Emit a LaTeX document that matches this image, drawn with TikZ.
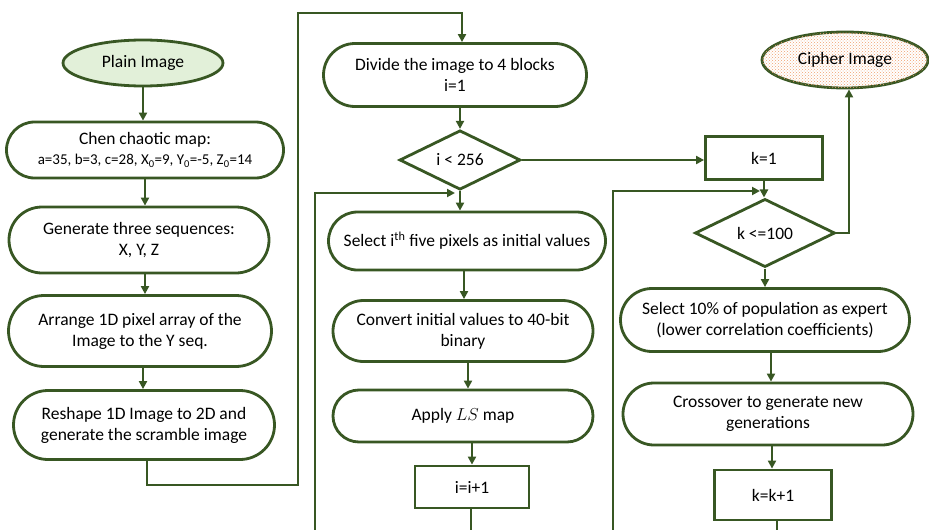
\documentclass[tikz,border=0pt]{standalone}
\usepackage{fontspec}
\setmainfont{Carlito}
\usetikzlibrary{arrows.meta,shapes.geometric,patterns,calc}
\definecolor{dkgreen}{RGB}{56,87,35}
\definecolor{ltgreen}{RGB}{226,240,217}
\definecolor{dotorange}{RGB}{240,160,110}
\begin{document}
\begin{tikzpicture}[x=1pt,y=-1pt,
  every node/.style={font=\fontsize{17.5}{21}\selectfont, align=center, inner sep=0pt, line width=2.8pt, draw=dkgreen},
  term/.style 2 args={rectangle, minimum width=#1, minimum height=#2, rounded corners=#2/2},
  boxed/.style 2 args={rectangle, minimum width=#1, minimum height=#2},
  decide/.style 2 args={diamond, minimum width=#1, minimum height=#2},
  oval/.style 2 args={ellipse, minimum width=#1, minimum height=#2},
  link/.style={draw=dkgreen, line width=2.8pt},
  arr/.style={link, -{Triangle[length=8pt,width=8pt]}}]
\useasboundingbox (0,0) rectangle (929,530);

% left column: scrambling stage
\node[oval={160pt}{46pt}, fill=ltgreen] (plain) at (143,63) {Plain Image};
\node[term={277pt}{56pt}] (chen) at (145,150) {Chen chaotic map:\\[-1pt]
  {\fontsize{15}{18}\selectfont a=35, b=3, c=28, X\textsubscript{0}=9, Y\textsubscript{0}=-5, Z\textsubscript{0}=14}};
\node[term={260pt}{66pt}] (gen) at (139,240) {Generate three sequences:\\X, Y, Z};
\node[term={263pt}{71pt}] (arrg) at (140,331) {Arrange 1D pixel array of the\\Image to the Y seq.};
\node[term={261pt}{69pt}] (resh) at (144,425) {Reshape 1D Image to 2D and\\generate the scramble image};

% middle column: block processing loop
\node[term={263pt}{63pt}] (div) at (455,75) {Divide the image to 4 blocks\\i=1};
\node[decide={121pt}{54pt}] (d1) at (460,160) {i {<} 256};
\node[term={277pt}{58pt}] (sel) at (467,241) {Select i\textsuperscript{th} five pixels as initial values};
\node[term={260pt}{61pt}] (conv) at (463,331) {Convert initial values to 40-bit\\binary};
\node[term={260pt}{52pt}] (ls) at (463,416) {Apply $LS$ map};
\node[boxed={114pt}{42pt}] (inc) at (472,487) {i=i+1};

% right column: optimisation loop
\node[oval={166pt}{56pt}, fill=white, postaction={pattern=crosshatch dots, pattern color=dotorange}] (cip) at (845,60) {Cipher Image};
\node[boxed={117pt}{43pt}] (k1) at (764,158) {k=1};
\node[decide={140pt}{52pt}] (d2) at (765,233) {k {<}=100};
\node[term={289pt}{63pt}] (sel10) at (765,320) {Select 10\% of population as expert\\(lower correlation coefficients)};
\node[term={290pt}{62pt}] (cross) at (768,414) {Crossover to generate new\\generations};
\node[boxed={117pt}{50pt}] (kk) at (773,495) {k=k+1};

% route points
\coordinate (rdown) at (147,485);
\coordinate (rup) at (298,13);
\coordinate (rtop) at (462,13);
\coordinate (iback) at (315,530);
\coordinate (ijoin) at (455,193);
\coordinate (iout) at (471,530);
\coordinate (kback) at (613,530);
\coordinate (kjoin) at (760,191);
\coordinate (kout) at (777,530);
\coordinate (cup) at (849,233);
\coordinate (gx) at ($(gen.south)+(6,0)$);
\coordinate (ax) at ($(arrg.south)+(3,0)$);
\coordinate (sx) at ($(sel.south)+(-3,0)$);
\coordinate (cx) at ($(conv.south)+(5,0)$);
\coordinate (lx) at ($(ls.south)+(9,0)$);
\coordinate (tx) at ($(sel10.south)+(6,0)$);
\coordinate (ox) at ($(cross.south)+(4,0)$);

% left column arrows
\draw[arr] (plain.south) -- (plain.south |- chen.north);
\draw[arr] (chen.south) -- (chen.south |- gen.north);
\draw[arr] (gx) -- (gx |- arrg.north);
\draw[arr] (ax) -- (ax |- resh.north);
\draw[arr] (rdown |- resh.south) -- (rdown) -- (rdown -| rup) -- (rup) -- (rtop) -- (rtop |- div.north);

% middle column arrows
\draw[arr] (d1.north |- div.south) -- (d1.north);
\draw[arr] (d1.east) -- (d1.east -| k1.west);
\draw[arr] (d1.south) -- (d1.south |- sel.north);
\draw[arr] (iback) |- (ijoin);
\draw[arr] (sx) -- (sx |- conv.north);
\draw[arr] (cx) -- (cx |- ls.north);
\draw[arr] (lx) -- (lx |- inc.north);
\draw[link] (iout |- inc.south) -- (iout);

% right column arrows
\draw[arr] (k1.south) -- (k1.south |- d2.north);
\draw[arr] (kback) |- (kjoin);
\draw[arr] (d2.east) -- (cup) -- (cup |- cip.south);
\draw[arr] (d2.south) -- (d2.south |- sel10.north);
\draw[arr] (tx) -- (tx |- cross.north);
\draw[arr] (ox) -- (ox |- kk.north);
\draw[link] (kout |- kk.south) -- (kout);
\end{tikzpicture}
\end{document}
